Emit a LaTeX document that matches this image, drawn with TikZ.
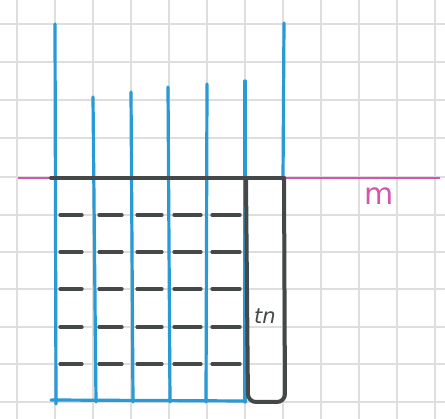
\documentclass[tikz,border=0pt]{standalone}
\usepackage{fontspec}
\setmainfont{DejaVu Sans}
\definecolor{gridc}{RGB}{222,222,222}
\definecolor{penblue}{RGB}{40,155,215}
\definecolor{penblack}{RGB}{68,72,72}
\definecolor{penpink}{RGB}{212,85,175}
\tikzset{
  gridline/.style={gridc, line width=1.8pt},
  blueline/.style={penblue, line width=3.2pt, line cap=round},
  blackline/.style={penblack, line width=4pt, line cap=round},
  dashline/.style={penblack, line width=3.2pt, line cap=round},
  pinkline/.style={penpink, line width=2pt},
}
\begin{document}
\begin{tikzpicture}[x=1pt,y=-1pt]
\useasboundingbox (0,0) rectangle (445,419);
\fill[white] (0,0) rectangle (445,419);
% grid
\foreach \gx in {17,55,93,131,169,207,245,283,321,359,397,435}
  \draw[gridline] (\gx,0) -- (\gx,419);
\foreach \gy in {24,62,100,138,177,215,252,289,327,364,402}
  \draw[gridline] (0,\gy) -- (445,\gy);
% pink line
\draw[pinkline] (18,178) -- (440,178);
% blue verticals
\draw[blueline] (55,24) -- (56,404);
\draw[blueline] (93,97) -- (96,402);
\draw[blueline] (131,92) -- (133,402);
\draw[blueline] (168,87) -- (170,402);
\draw[blueline] (207,84) -- (206,402);
\draw[blueline] (245,81) -- (245,402);
\draw[blueline] (284,23) -- (283,180);
% blue bottom line
\draw[blueline] (51,400) -- (246,401);
% dashes
\foreach \ry in {215,252,289,327,364}{
  \draw[dashline] (60,\ry) -- (82,\ry);
  \draw[dashline] (99,\ry) -- (122,\ry);
  \draw[dashline] (137,\ry) -- (162,\ry);
  \draw[dashline] (174,\ry) -- (201,\ry);
  \draw[dashline] (212,\ry) -- (240,\ry);
}
% black top line
\draw[blackline] (51,178) -- (284,178);
% black rectangle
\draw[blackline, rounded corners=8pt] (246,178) -- (248,402) -- (285,402) -- (284,178);
% labels
\node[penblack, font=\fontsize{21}{21}\selectfont\itshape] (tn) at (265,316) {tn};
\node[penpink, font=\fontsize{30}{30}\selectfont] (m) at (379,196) {m};
\end{tikzpicture}
\end{document}
